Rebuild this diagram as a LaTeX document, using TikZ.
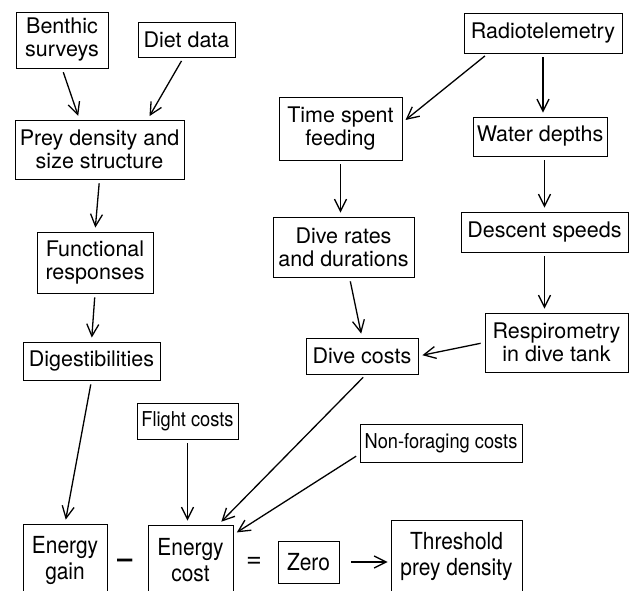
\documentclass[tikz,border=0pt]{standalone}
\usepackage{fontspec}
\setmainfont{TeX Gyre Heros}
\newfontfamily\narrowfont[FakeStretch=0.89]{TeX Gyre Heros}
\usetikzlibrary{arrows.meta}
\begin{document}
\begin{tikzpicture}[x=1pt,y=-1pt,
    box/.style={draw,line width=0.9pt,align=center,inner sep=2pt,
      font=\fontsize{21.5}{23}\selectfont},
    small/.style={box,font=\narrowfont\fontsize{20.5}{22}\selectfont},
    big/.style={box,font=\narrowfont\fontsize{23.5}{26}\selectfont},
    arr/.style={-{Straight Barb[length=12pt,width=12pt]},line width=1.3pt,
      shorten <=4pt,shorten >=4pt}]

    \useasboundingbox (0,0) rectangle (632,591);

    % the boxes

    \node[box,minimum width=92pt,minimum height=56pt] (benthic) at (62,40) {Benthic\\surveys};
    \node[box,minimum width=97pt,minimum height=35pt] (diet) at (186.5,39.5) {Diet data};
    \node[box,minimum width=169pt,minimum height=59pt] (prey) at (99.5,149.5) {Prey density and\\size structure};
    \node[box,minimum width=116pt,minimum height=61pt] (func) at (95,262.5) {Functional\\responses};
    \node[box,minimum width=137pt,minimum height=38pt] (digest) at (91.5,361) {Digestibilities};
    \node[box,minimum width=158pt,minimum height=40pt] (radio) at (543,33) {Radiotelemetry};
    \node[box,minimum width=123pt,minimum height=63pt] (time) at (340.5,128.5) {Time spent\\feeding};
    \node[box,minimum width=134pt,minimum height=39pt] (water) at (540,136.5) {Water depths};
    \node[box,minimum width=167pt,minimum height=40pt] (descent) at (544.5,232) {Descent speeds};
    \node[box,minimum width=141pt,minimum height=60pt] (rates) at (343.5,247) {Dive rates\\and durations};
    \node[box,minimum width=143pt,minimum height=59pt] (resp) at (556.5,342.5) {Respirometry\\in dive tank};
    \node[box,minimum width=112pt,minimum height=36pt] (divecost) at (362,356) {Dive costs};
    \node[small,minimum width=101pt,minimum height=36pt] (flight) at (187.5,421) {Flight costs};
    \node[small,minimum width=162pt,minimum height=38pt] (nonfor) at (441,443) {Non-foraging costs};

    % the equation

    \node[big,minimum width=84pt,minimum height=72pt] (gain) at (65,560) {Energy\\gain};
    \node[big,minimum width=85pt,minimum height=70pt] (cost) at (190.5,560) {Energy\\cost};
    \node[big,minimum width=61pt,minimum height=42pt] (zero) at (308.5,562) {Zero};
    \node[big,minimum width=131pt,minimum height=72pt] (thresh) at (456.5,556) {Threshold\\prey density};
    \node[font=\fontsize{27}{30}\selectfont\bfseries] (minus) at (125,563) {–};
    \node[font=\fontsize{27}{30}\selectfont] (equals) at (254,562) {=};

    \draw[arr] (benthic.south) -- ([xshift=-20pt]prey.north);
    \draw[arr] ([xshift=-3pt]diet.south) -- ([xshift=48pt]prey.north);
    \draw[arr] (prey.south) -- (func.north);
    \draw[arr] (func.south) -- (digest.north);
    \draw[arr] (digest.south) -- (gain.north);
    \draw[arr] (flight.south) -- (flight.south |- cost.north);
    \draw[arr] ([xshift=4pt]divecost.south) -- ([xshift=28pt]cost.north);
    \draw[arr] ([yshift=-11pt]nonfor.west) -- ([yshift=-10pt]cost.north east);
    \draw[arr] ([xshift=-55pt]radio.south) -- ([yshift=6pt]time.east);
    \draw[arr] (radio.south) -- (radio.south |- water.north);
    \draw[arr] (time.south) -- (time.south |- rates.north);
    \draw[arr] (descent.north |- water.south) -- (descent.north);
    \draw[arr] ([xshift=6pt]rates.south) -- (divecost.north);
    \draw[arr] (descent.south) -- (descent.south |- resp.north);
    \draw[arr] (resp.west) -- (divecost.east);
    \draw[arr,shorten <=12pt,shorten >=3pt] (zero.east) -- (zero.east -| thresh.west);
  \end{tikzpicture}
\end{document}
